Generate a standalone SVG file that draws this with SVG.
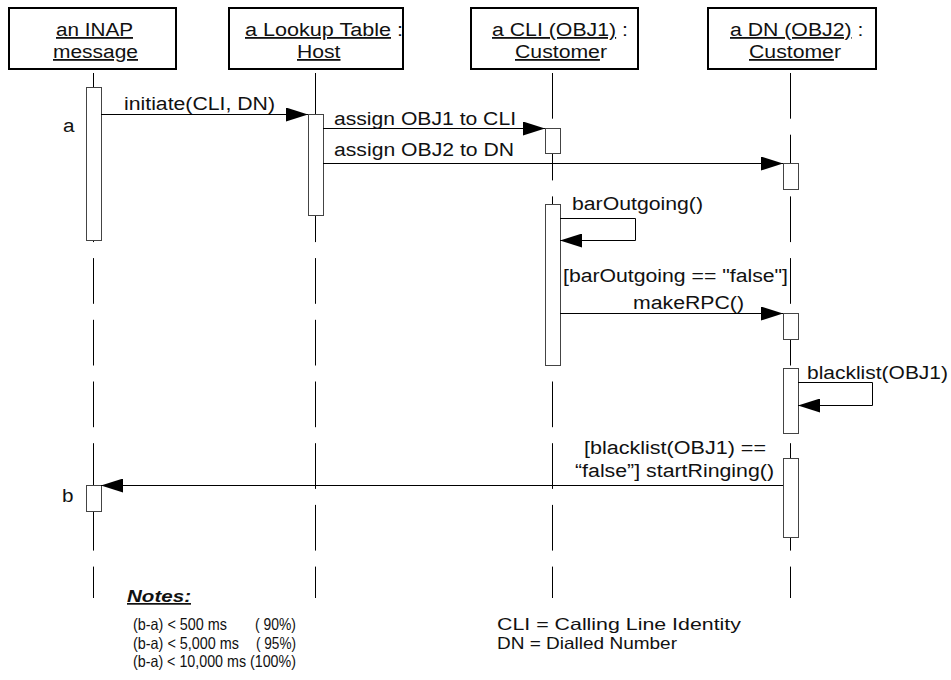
<svg xmlns="http://www.w3.org/2000/svg" width="951" height="680" viewBox="0 0 951 680">
<style>
.box{fill:#fff;stroke:#000;stroke-width:2}
.life{stroke:#000;stroke-width:1;stroke-dasharray:45.7 16;fill:none}
.act{fill:#fff;stroke:#444;stroke-width:1}
.msg{stroke:#000;stroke-width:1;fill:none;marker-end:url(#ah)}
text{font-family:"Liberation Sans",Arial,Helvetica,sans-serif;font-size:18px;fill:#111}
.u{text-decoration:underline}
.note{font-size:16.5px}
.nh{font-size:17px;font-weight:bold;font-style:italic;text-decoration:underline}
</style>
<defs>
<marker id="ah" markerUnits="userSpaceOnUse" markerWidth="22" markerHeight="14" refX="22" refY="7" orient="auto">
<path d="M0,0 L22,7 L0,14 Z" fill="#000"/>
</marker>
</defs>
<rect width="951" height="680" fill="#fff"/>
<g id="lifelines">
<line class="life" x1="93.5" y1="73" x2="93.5" y2="598"/>
<line class="life" x1="315.5" y1="73" x2="315.5" y2="598"/>
<line class="life" x1="552.5" y1="73" x2="552.5" y2="598"/>
<line class="life" x1="790.5" y1="73" x2="790.5" y2="598"/>
</g>
<g id="inap">
<rect class="box" x="9" y="8" width="167" height="61"/>
<text x="56" y="36" textLength="77" lengthAdjust="spacingAndGlyphs" class="u">an INAP</text>
<text x="53" y="58" textLength="85" lengthAdjust="spacingAndGlyphs" class="u">message</text>
<rect class="act" x="86.5" y="87.5" width="15" height="153"/>
<rect class="act" x="86.5" y="485.5" width="15" height="26"/>
<text x="63" y="132" textLength="11.5" lengthAdjust="spacingAndGlyphs">a</text>
<text x="62" y="502" textLength="11.5" lengthAdjust="spacingAndGlyphs">b</text>
</g>
<g id="lookup">
<rect class="box" x="229" y="8" width="174" height="61"/>
<text x="245" y="36" textLength="158" lengthAdjust="spacingAndGlyphs"><tspan class="u">a Lookup Table</tspan> :</text>
<text x="297" y="58" textLength="43.5" lengthAdjust="spacingAndGlyphs" class="u">Host</text>
<rect class="act" x="308.5" y="114.5" width="15" height="101"/>
</g>
<g id="cli">
<rect class="box" x="471" y="8" width="167" height="61"/>
<text x="492" y="36" textLength="136" lengthAdjust="spacingAndGlyphs"><tspan class="u">a CLI (OBJ1)</tspan> :</text>
<text x="515" y="58" textLength="92" lengthAdjust="spacingAndGlyphs"><tspan class="u">Custome</tspan>r</text>
<rect class="act" x="545.5" y="128.5" width="15" height="25"/>
<rect class="act" x="545.5" y="204.5" width="15" height="161"/>
</g>
<g id="dn">
<rect class="box" x="708" y="8" width="168" height="61"/>
<text x="730" y="36" textLength="133.4" lengthAdjust="spacingAndGlyphs"><tspan class="u">a DN (OBJ2)</tspan> :</text>
<text x="749" y="58" textLength="92" lengthAdjust="spacingAndGlyphs"><tspan class="u">Custome</tspan>r</text>
<rect class="act" x="783.5" y="163.5" width="15" height="26"/>
<rect class="act" x="783.5" y="313.5" width="15" height="26"/>
<rect class="act" x="783.5" y="368.5" width="15" height="65"/>
<rect class="act" x="783.5" y="458.5" width="15" height="79"/>
</g>
<g id="connectors">
<line class="msg" x1="101" y1="114.5" x2="308" y2="114.5"/>
<text x="124" y="110" textLength="151" lengthAdjust="spacingAndGlyphs">initiate(CLI, DN)</text>
<line class="msg" x1="323" y1="128.5" x2="545" y2="128.5"/>
<text x="334" y="125" textLength="182" lengthAdjust="spacingAndGlyphs">assign OBJ1 to CLI</text>
<line class="msg" x1="323" y1="163.5" x2="783" y2="163.5"/>
<text x="334" y="156" textLength="180" lengthAdjust="spacingAndGlyphs">assign OBJ2 to DN</text>
<polyline class="msg" points="560,218.5 635.5,218.5 635.5,240.5 560,240.5"/>
<text x="572" y="210" textLength="131" lengthAdjust="spacingAndGlyphs">barOutgoing()</text>
<text x="563" y="282" textLength="225" lengthAdjust="spacingAndGlyphs">[barOutgoing == "false"]</text>
<line class="msg" x1="560" y1="313.5" x2="783" y2="313.5"/>
<text x="633" y="309" textLength="111" lengthAdjust="spacingAndGlyphs">makeRPC()</text>
<polyline class="msg" points="798,382.5 872.5,382.5 872.5,405.5 798,405.5"/>
<text x="807" y="379" textLength="141" lengthAdjust="spacingAndGlyphs">blacklist(OBJ1)</text>
<line class="msg" x1="783" y1="485.5" x2="101" y2="485.5"/>
<text x="584" y="454" textLength="182" lengthAdjust="spacingAndGlyphs">[blacklist(OBJ1) ==</text>
<text x="575" y="477" textLength="199" lengthAdjust="spacingAndGlyphs">“false”] startRinging()</text>
</g>
<g id="notes">
<text class="nh" x="127" y="602" textLength="64" lengthAdjust="spacingAndGlyphs">Notes:</text>
<text class="note" x="133" y="630" textLength="94" lengthAdjust="spacingAndGlyphs">(b-a) &lt; 500 ms</text>
<text class="note" x="255" y="630" textLength="41" lengthAdjust="spacingAndGlyphs">( 90%)</text>
<text class="note" x="133" y="649" textLength="106" lengthAdjust="spacingAndGlyphs">(b-a) &lt; 5,000 ms</text>
<text class="note" x="256" y="649" textLength="40" lengthAdjust="spacingAndGlyphs">( 95%)</text>
<text class="note" x="133" y="667" textLength="163" lengthAdjust="spacingAndGlyphs">(b-a) &lt; 10,000 ms (100%)</text>
<text class="note" x="497" y="630" textLength="244" lengthAdjust="spacingAndGlyphs">CLI = Calling Line Identity</text>
<text class="note" x="497" y="649" textLength="180" lengthAdjust="spacingAndGlyphs">DN = Dialled Number</text>
</g>
</svg>
